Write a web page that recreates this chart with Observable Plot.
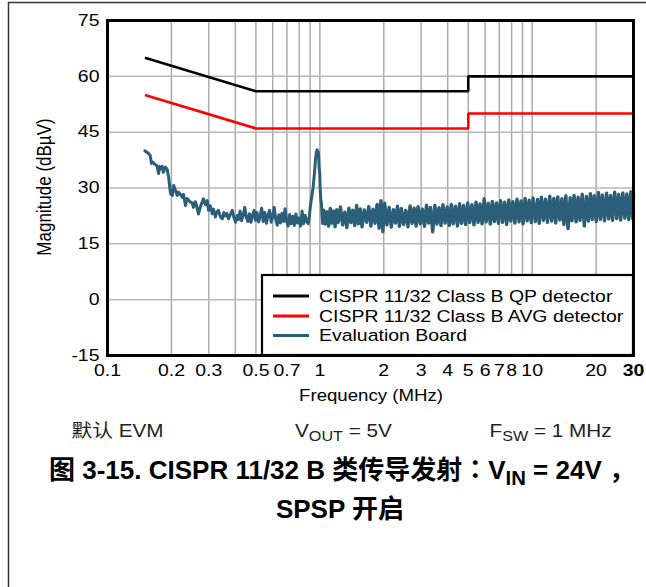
<!DOCTYPE html>
<html>
<head>
<meta charset="utf-8">
<script src="https://cdn.jsdelivr.net/npm/d3@7"></script>
<script src="https://cdn.jsdelivr.net/npm/@observablehq/plot@0.6"></script>
<style>
  body { margin: 0; background: #fff; }
  #wrap { position: relative; width: 646px; height: 587px; overflow: hidden; background: #fff; }
  #chart { position: absolute; left: 0; top: 0; }
  #overlay { position: absolute; left: 0; top: 0; pointer-events: none; }
</style>
</head>
<body>
<div id="wrap">
  <div id="chart"></div>
  <svg id="overlay" width="646" height="587" xmlns="http://www.w3.org/2000/svg"></svg>
</div>
<script>
// ---------- data ----------
const xTicks = [0.1, 0.2, 0.3, 0.5, 0.7, 1, 2, 3, 4, 5, 6, 7, 8, 10, 20, 30];
const xGrid = [0.2, 0.3, 0.4, 0.5, 0.6, 0.7, 0.8, 0.9, 1, 2, 3, 4, 5, 6, 7, 8, 9, 10, 20];
const yTicks = [-15, 0, 15, 30, 45, 60, 75];
const yGrid = [0, 15, 30, 45, 60];

const seriesNames = [
  "CISPR 11/32 Class B QP detector",
  "CISPR 11/32 Class B AVG detector",
  "Evaluation Board"
];
const seriesColors = ["#000000", "#ff0000", "#2b5e78"];

// limit lines: [MHz, dBµV]
const qpLimit = [[0.15, 65], [0.5, 56], [5, 56], [5, 60], [30, 60]];
const avgLimit = [[0.15, 55], [0.5, 46], [5, 46], [5, 50], [30, 50]];

// measured spectrum below 1.04 MHz: [MHz, dBµV]
const boardLow = [
  [0.150,40.0],[0.153,39.6],[0.156,39.3],[0.159,38.7],[0.161,36.6],[0.163,37.0],[0.165,36.7],[0.168,36.3],
  [0.171,36.0],[0.174,33.9],[0.176,35.8],[0.179,35.2],[0.181,35.8],[0.183,34.2],[0.1875,35.6],[0.191,35.0],
  [0.194,32.9],[0.198,28.5],[0.202,28.0],[0.205,30.7],[0.209,29.3],[0.213,28.0],[0.216,28.9],[0.221,28.2],
  [0.225,27.5],[0.228,28.3],[0.233,25.3],[0.237,27.2],[0.242,26.6],[0.246,26.2],[0.250,26.0],[0.254,24.8],
  [0.259,26.3],[0.262,25.6],[0.268,23.0],[0.274,25.0],[0.279,26.2],[0.283,27.1],[0.289,25.5],[0.295,26.6],
  [0.299,24.0],[0.305,25.2],[0.311,23.1],[0.316,24.3],[0.322,22.2],[0.327,23.5],[0.333,24.0],[0.340,22.3],
  [0.347,21.7],[0.353,23.4],[0.359,22.5],[0.365,23.2],[0.371,21.7],[0.379,22.9],[0.387,24.0],[0.394,22.0],
  [0.401,20.8],[0.408,22.6],[0.414,21.5],[0.421,23.8],[0.428,21.2],[0.435,22.5],[0.443,24.8],[0.451,22.0],
  [0.458,21.0],[0.466,23.1],[0.474,20.8],[0.482,22.6],[0.490,24.0],[0.498,21.3],[0.506,23.4],[0.515,20.9],
  [0.523,22.4],[0.532,24.6],[0.541,21.0],[0.550,23.5],[0.560,20.5],[0.570,22.8],[0.580,24.0],[0.590,20.8],
  [0.600,22.5],[0.610,24.8],[0.620,21.5],[0.630,20.0],[0.641,22.8],[0.652,20.6],[0.663,23.2],[0.674,21.0],
  [0.686,24.4],[0.697,21.0],[0.709,19.8],[0.721,22.9],[0.733,20.4],[0.746,22.4],[0.758,19.9],[0.771,23.0],
  [0.784,20.6],[0.797,21.9],[0.811,19.8],[0.825,23.8],[0.839,20.4],[0.853,22.6],[0.868,21.0],[0.882,20.4],
  [0.893,22.5],[0.903,25.3],[0.915,27.5],[0.930,30.2],[0.943,33.9],[0.953,37.4],[0.962,39.5],[0.971,40.3],
  [0.978,38.8],[0.985,39.6],[0.992,35.5],[0.999,33.9],[1.003,30.2],[1.010,27.0],[1.017,25.8],[1.025,22.2],
  [1.032,20.5]
];

// measured spectrum 1.04–30 MHz (dense noise band): [MHz, dBµV]
const boardHigh = [
  [1.04,24.0],[1.06,20.3],[1.08,23.6],[1.10,19.8],[1.12,24.5],[1.14,20.6],[1.16,23.8],[1.18,19.6],[1.20,24.2],[1.22,20.8],
  [1.25,24.9],[1.28,20.1],[1.31,23.5],[1.34,19.4],[1.37,24.6],[1.40,20.7],[1.43,24.0],[1.46,19.9],[1.49,25.3],[1.52,20.4],
  [1.55,24.4],[1.58,19.6],[1.62,24.1],[1.66,20.8],[1.70,25.0],[1.74,19.8],[1.78,24.3],[1.82,20.5],[1.86,25.6],[1.90,19.2],
  [1.94,26.6],[1.98,18.3],[2.02,25.9],[2.07,20.1],[2.12,24.8],[2.17,19.5],[2.22,24.2],[2.27,20.6],[2.32,25.1],[2.37,19.7],
  [2.42,24.5],[2.48,20.2],[2.54,24.0],[2.60,19.6],[2.66,25.2],[2.72,20.5],[2.78,24.6],[2.84,19.8],[2.90,25.0],[2.97,20.4],
  [3.04,24.3],[3.11,19.7],[3.18,25.4],[3.25,20.6],[3.32,24.8],[3.40,18.2],[3.48,25.3],[3.56,20.3],[3.64,24.7],[3.72,19.9],
  [3.80,25.5],[3.89,20.6],[3.98,24.9],[4.07,20.0],[4.16,25.6],[4.25,20.4],[4.35,25.1],[4.45,19.8],[4.55,25.8],[4.65,20.5],
  [4.75,25.3],[4.86,20.2],[4.97,26.0],[5.08,20.7],[5.20,25.5],[5.32,20.1],[5.44,26.2],[5.56,20.8],[5.68,25.7],[5.81,20.4],
  [5.94,27.1],[6.07,20.9],[6.21,25.9],[6.35,20.3],[6.49,26.4],[6.64,21.0],[6.79,26.0],[6.94,20.5],[7.10,26.6],[7.26,20.8],
  [7.42,26.2],[7.59,20.2],[7.76,26.8],[7.93,21.1],[8.11,26.3],[8.29,20.6],[8.48,27.0],[8.67,20.9],[8.86,26.5],[9.06,20.4],
  [9.26,27.2],[9.47,21.2],[9.68,26.7],[9.90,20.7],[10.1,27.3],[10.35,21.0],[10.6,26.9],[10.8,20.5],[11.05,27.5],[11.3,21.3],
  [11.55,27.0],[11.8,20.8],[12.1,27.8],[12.35,21.1],[12.65,27.2],[12.9,20.6],[13.2,27.6],[13.5,21.4],[13.8,27.1],[14.1,20.2],
  [14.4,27.9],[14.75,19.1],[15.1,27.4],[15.4,21.2],[15.75,28.0],[16.1,20.9],[16.45,27.5],[16.8,21.3],[17.2,28.3],[17.6,19.8],
  [18.0,27.7],[18.4,21.1],[18.8,28.5],[19.2,21.5],[19.6,27.9],[20.05,21.0],[20.5,28.8],[20.95,21.6],[21.4,28.1],[21.9,21.2],
  [22.4,28.6],[22.9,21.7],[23.4,28.0],[23.9,21.3],[24.45,28.9],[25.0,21.8],[25.55,28.3],[26.1,21.4],[26.7,28.7],[27.3,21.9],
  [27.9,28.4],[28.5,21.5],[29.15,29.0],[29.8,21.8],[30,28.5]
];

// ---------- chart ----------
const FONT = "Liberation Sans, Arial, Helvetica, sans-serif";
const STRETCH = 1.18;

const chart = Plot.plot({
  width: 646,
  height: 405,
  marginLeft: 107,
  marginRight: 13,
  marginTop: 20,
  marginBottom: 50,
  x: { type: "log", domain: [0.1, 30], axis: null },
  y: { domain: [-15, 75], axis: null },
  style: { fontFamily: FONT, fontSize: "16.5px", color: "#000", background: "transparent", overflow: "visible" },
  marks: [
    Plot.gridX(xGrid, { stroke: "#ababab", strokeOpacity: 1, strokeWidth: 1.5 }),
    Plot.gridY(yGrid, { stroke: "#b8b8b8", strokeOpacity: 1, strokeWidth: 1.5 }),
    Plot.line(qpLimit, { x: d => d[0], y: d => d[1], stroke: seriesColors[0], strokeWidth: 2.6, strokeLinejoin: "miter", strokeLinecap: "butt" }),
    Plot.line(avgLimit, { x: d => d[0], y: d => d[1], stroke: seriesColors[1], strokeWidth: 2.6, strokeLinejoin: "miter", strokeLinecap: "butt" }),
    Plot.line(boardLow, { x: d => d[0], y: d => d[1], stroke: seriesColors[2], strokeWidth: 3 }),
    Plot.line(boardHigh, { x: d => d[0], y: d => d[1], stroke: seriesColors[2], strokeWidth: 3.4 }),
    Plot.line([boardLow[boardLow.length - 1], boardHigh[0]], { x: d => d[0], y: d => d[1], stroke: seriesColors[2], strokeWidth: 3 }),
    Plot.frame({ stroke: "#000", strokeWidth: 3 }),
    Plot.text(xTicks, { x: d => d, text: d => String(d), frameAnchor: "bottom", dy: 20, fontSize: 16.5, fill: "#000",
      fontWeight: d => (d === xTicks[xTicks.length - 1] ? "bold" : "normal") }),
    Plot.text(yTicks, { y: d => d, text: d => String(d), frameAnchor: "left", dx: -8, textAnchor: "end", fontSize: 16.5, fill: "#000" })
  ]
});
document.getElementById("chart").appendChild(chart);

// widen chart text horizontally like the reference artwork
function stretchText(el, s) {
  const x = el.getAttribute("x");
  let t = el.getAttribute("transform") || "";
  if (x !== null && !isNaN(+x)) {
    el.removeAttribute("x");
    t += ` translate(${+x},0)`;
  }
  el.setAttribute("transform", `${t} scale(${s},1)`);
}
chart.querySelectorAll("text").forEach(t => stretchText(t, STRETCH));
// last x tick label is drawn bold in the reference
chart.querySelectorAll("text").forEach(t => {
  if (t.textContent === String(xTicks[xTicks.length - 1]) && t.getBoundingClientRect().top > 360) {
    t.setAttribute("font-weight", "bold");
    t.style.fontWeight = "bold";
  }
});

// ---------- overlay: frame, axis titles, legend, captions ----------
const NS = "http://www.w3.org/2000/svg";
const ov = document.getElementById("overlay");
function el(tag, attrs, parent = ov) {
  const e = document.createElementNS(NS, tag);
  for (const k in attrs) e.setAttribute(k, attrs[k]);
  parent.appendChild(e);
  return e;
}
// page frame
el("path", { d: "M8.5,600 V2.5 H660", fill: "none", stroke: "#333", "stroke-width": 1.5 });

// axis titles
const yTitle = el("text", { transform: `translate(51,187) scale(${STRETCH},1) rotate(-90)`, "text-anchor": "middle",
  "font-family": FONT, "font-size": 17, fill: "#000" });
yTitle.textContent = "Magnitude (dBµV)";
const xTitle = el("text", { transform: `translate(371,401) scale(${STRETCH - 0.05},1)`, "text-anchor": "middle",
  "font-family": FONT, "font-size": 16.5, fill: "#000" });
xTitle.textContent = "Frequency (MHz)";

// legend
el("rect", { x: 262, y: 275, width: 371, height: 80, fill: "#fff", stroke: "#000", "stroke-width": 2.2 });
const rowY = [296, 316, 335.5];
seriesNames.forEach((name, i) => {
  el("line", { x1: 273, x2: 309, y1: rowY[i], y2: rowY[i], stroke: seriesColors[i], "stroke-width": 2.8 });
  const t = el("text", { transform: `translate(319,${rowY[i] + 5.8}) scale(${STRETCH},1)`,
    "font-family": FONT, "font-size": 16.5, fill: "#000" });
  t.textContent = name;
});

// captions under the chart
const CAP = "Liberation Sans, Arial, Noto Sans CJK SC, sans-serif";
function richText(x, baseline, parts, size, stretch, anchor, weight, fill) {
  const t = el("text", { transform: `translate(${x},${baseline}) scale(${stretch},1)`, "text-anchor": anchor,
    "font-family": CAP, "font-size": size, "font-weight": weight, fill });
  let shift = 0;
  parts.forEach(p => {
    const target = p.sub ? size * 0.25 : 0;
    const attrs = { dy: target - shift };
    if (p.sub) attrs["font-size"] = size * 0.78;
    if (p.font) attrs["font-family"] = p.font;
    const s = el("tspan", attrs, t);
    s.textContent = p.text;
    shift = target;
  });
  return t;
}
const capRow = [
  { x: 71.5, parts: [{ text: "默认 EVM" }] },
  { x: 295, parts: [{ text: "V" }, { text: "OUT", sub: true }, { text: " = 5V" }] },
  { x: 489.5, parts: [{ text: "F" }, { text: "SW", sub: true }, { text: " = 1 MHz" }] }
];
capRow.forEach(c => richText(c.x, 436.7, c.parts, 18.5, 1.12, "start", "normal", "#222"));

richText(342, 478.5, [
  { text: "图 3-15. CISPR 11/32 B 类传导发射" },
  { text: "：", font: "Noto Sans CJK JP" },
  { text: "V" }, { text: "IN", sub: true }, { text: " = 24V ，" }
], 26, 1.0, "middle", "bold", "#000");
richText(340, 517.5, [{ text: "SPSP 开启" }], 26, 1, "middle", "bold", "#000");
</script>
</body>
</html>
